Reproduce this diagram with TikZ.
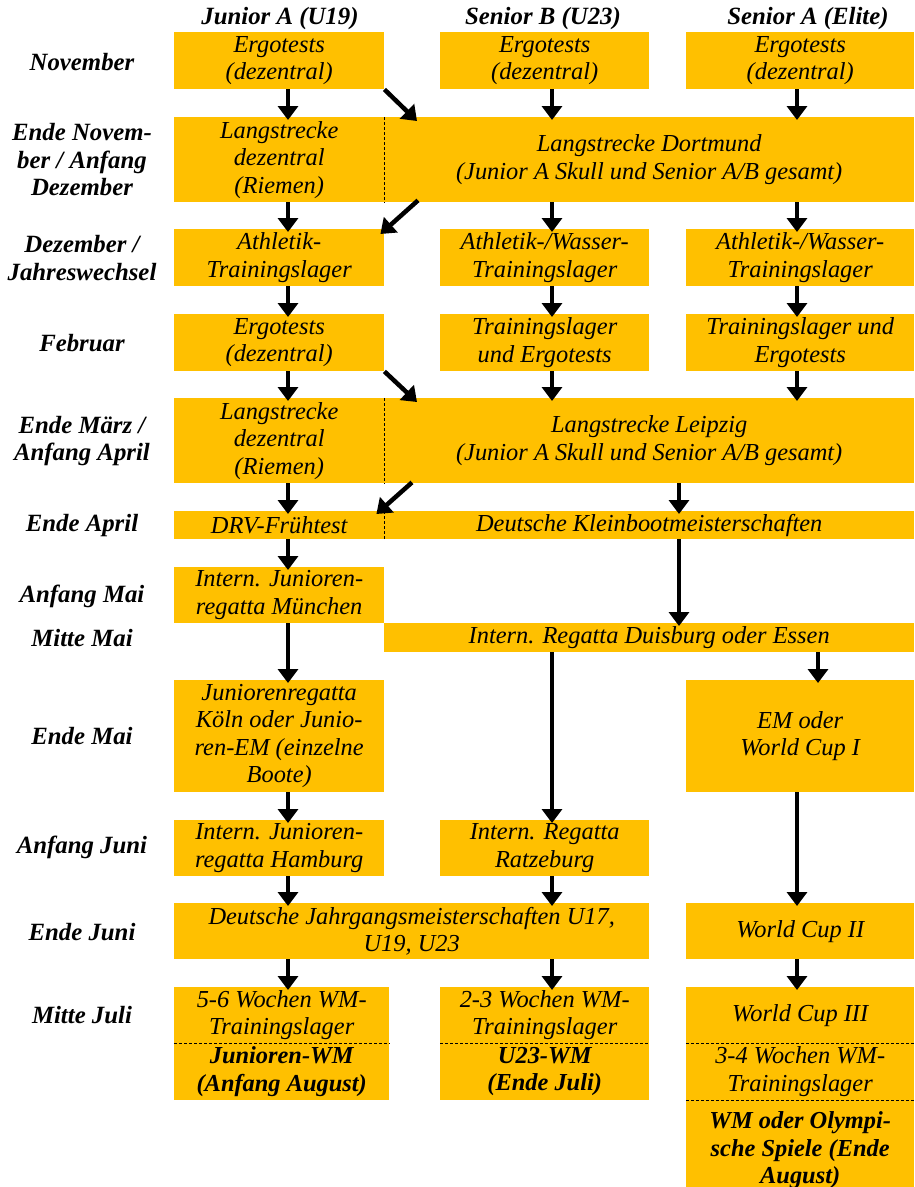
\documentclass[tikz,border=0pt]{standalone}
\usepackage{fontspec}
\setmainfont{Liberation Serif}
\usetikzlibrary{arrows.meta}
\definecolor{boxc}{RGB}{255,192,0}
\begin{document}
\begin{tikzpicture}[x=1pt,y=-1pt,
  box/.style={fill=boxc, inner sep=0pt, anchor=north west, align=center,
    font=\fontsize{24.4}{27.5}\selectfont\itshape},
  bbox/.style={box, font=\fontsize{24.4}{27.5}\selectfont\bfseries\itshape},
  lab/.style={inner sep=0pt, align=center, font=\fontsize{24.8}{27.5}\selectfont\bfseries\itshape},
  arr/.style={line width=4.5pt, -{Triangle[width=20pt,length=14pt]}, shorten >=-3pt},
  divline/.style={line width=1.3pt, dash pattern=on 3pt off 2pt}]
\useasboundingbox (0,0) rectangle (914,1187);
\coordinate (cx1) at (288,0);
\coordinate (cx2) at (552,0);
\coordinate (cx3) at (797,0);
\coordinate (cx4) at (818,0);
\coordinate (cx5) at (679,0);
% headers
\node[lab] (h1) at (280,19) {Junior A (U19)};
\node[lab] (h2) at (543,19) {Senior B (U23)};
\node[lab] (h3) at (808,19) {Senior A (Elite)};
% month labels
\node[lab] (m1) at (82,62) {November};
\node[lab] (m2) at (82,160) {Ende Novem-\\ber / Anfang\\Dezember};
\node[lab] (m3) at (82,258) {Dezember /\\Jahreswechsel};
\node[lab] (m4) at (82,343) {Februar};
\node[lab] (m5) at (82,441) {Ende März /\\Anfang April};
\node[lab] (m6) at (82,526) {Ende April};
\node[lab] (m7) at (82,596) {Anfang Mai};
\node[lab] (m8) at (82,638) {Mitte Mai};
\node[lab] (m9) at (82,736) {Ende Mai};
\node[lab] (m10) at (82,847) {Anfang Juni};
\node[lab] (m11) at (82,932) {Ende Juni};
\node[lab] (m12) at (82,1015) {Mitte Juli};
% row 1
\node[box, minimum width=210, minimum height=57] (e1) at (174,32) {Ergotests\\(dezentral)};
\node[box, minimum width=209, minimum height=57] (e2) at (440,32) {Ergotests\\(dezentral)};
\node[box, minimum width=228, minimum height=57] (e3) at (686,32) {Ergotests\\(dezentral)};
% row 2
\node[box, minimum width=210, minimum height=85] (ld1) at (174,117) {Langstrecke\\dezentral\\(Riemen)};
\node[box, minimum width=530, minimum height=85] (dort) at (384,117) {Langstrecke Dortmund\\(Junior A Skull und Senior A/B gesamt)};
% row 3
\node[box, minimum width=210, minimum height=57] (a1) at (174,229) {Athletik-\\Trainingslager};
\node[box, minimum width=209, minimum height=57] (a2) at (440,229) {Athletik-/Wasser-\\Trainingslager};
\node[box, minimum width=228, minimum height=57] (a3) at (686,229) {Athletik-/Wasser-\\Trainingslager};
% row 4
\node[box, minimum width=210, minimum height=57] (f1) at (174,314) {Ergotests\\(dezentral)};
\node[box, minimum width=209, minimum height=57] (f2) at (440,314) {Trainingslager\\und Ergotests};
\node[box, minimum width=228, minimum height=57] (f3) at (686,314) {Trainingslager und\\Ergotests};
% row 5
\node[box, minimum width=210, minimum height=85] (ld2) at (174,398) {Langstrecke\\dezentral\\(Riemen)};
\node[box, minimum width=530, minimum height=85] (leip) at (384,398) {Langstrecke Leipzig\\(Junior A Skull und Senior A/B gesamt)};
% row 6
\node[box, minimum width=210, minimum height=28] (drv) at (174,511) {DRV-Frühtest};
\node[box, minimum width=530, minimum height=28] (kbm) at (384,511) {Deutsche Kleinbootmeisterschaften};
% row 7
\node[box, minimum width=210, minimum height=56] (mu) at (174,567) {Intern. Junioren-\\regatta München};
% row 8
\node[box, minimum width=530, minimum height=29] (dui) at (384,623) {Intern. Regatta Duisburg oder Essen};
% row 9
\node[box, minimum width=210, minimum height=112] (koeln) at (174,680) {Juniorenregatta\\Köln oder Junio-\\ren-EM (einzelne\\Boote)};
\node[box, minimum width=228, minimum height=112] (em) at (686,680) {EM oder\\World Cup I};
% row 10
\node[box, minimum width=210, minimum height=56] (hh) at (174,820) {Intern. Junioren-\\regatta Hamburg};
\node[box, minimum width=209, minimum height=56] (rz) at (440,820) {Intern. Regatta\\Ratzeburg};
% row 11
\node[box, minimum width=475, minimum height=56] (djm) at (174,903) {Deutsche Jahrgangsmeisterschaften U17,\\U19, U23};
\node[box, minimum width=228, minimum height=56] (wc2) at (686,903) {World Cup II};
% row 12
\node[box, minimum width=215, minimum height=56] (j1) at (174,987) {5-6 Wochen WM-\\Trainingslager};
\node[bbox, minimum width=215, minimum height=57] (j2) at (174,1043) {Junioren-WM\\(Anfang August)};
\node[box, minimum width=209, minimum height=56] (s1) at (440,987) {2-3 Wochen WM-\\Trainingslager};
\node[bbox, minimum width=209, minimum height=57] (s2) at (440,1043) {U23-WM\\(Ende Juli)};
\node[box, minimum width=228, minimum height=56] (w3) at (686,987) {World Cup III};
\node[box, minimum width=228, minimum height=57] (w4) at (686,1043) {3-4 Wochen WM-\\Trainingslager};
\node[bbox, minimum width=228, minimum height=100] (w5) at (686,1100) {WM oder Olympi-\\sche Spiele (Ende\\August)};
% dividers
\draw[divline] (ld1.north east) -- (ld1.south east);
\draw[divline] (ld2.north east) -- (ld2.south east);
\draw[divline] (drv.north east) -- (drv.south east);
\draw[divline] (j1.south west) -- (j1.south east);
\draw[divline] (s1.south west) -- (s1.south east);
\draw[divline] (w3.south west) -- (w3.south east);
\draw[divline] (w4.south west) -- (w4.south east);
% column 1 arrows
\draw[arr] (e1.south -| cx1) -- (ld1.north -| cx1);
\draw[arr] (ld1.south -| cx1) -- (a1.north -| cx1);
\draw[arr] (a1.south -| cx1) -- (f1.north -| cx1);
\draw[arr] (f1.south -| cx1) -- (ld2.north -| cx1);
\draw[arr] (ld2.south -| cx1) -- (drv.north -| cx1);
\draw[arr] (drv.south -| cx1) -- (mu.north -| cx1);
\draw[arr] (mu.south -| cx1) -- (koeln.north -| cx1);
\draw[arr] (koeln.south -| cx1) -- (hh.north -| cx1);
\draw[arr] (hh.south -| cx1) -- (djm.north -| cx1);
\draw[arr] (djm.south -| cx1) -- (j1.north -| cx1);
% column 2 arrows
\draw[arr] (e2.south -| cx2) -- (dort.north -| cx2);
\draw[arr] (dort.south -| cx2) -- (a2.north -| cx2);
\draw[arr] (a2.south -| cx2) -- (f2.north -| cx2);
\draw[arr] (f2.south -| cx2) -- (leip.north -| cx2);
\draw[arr] (dui.south -| cx2) -- (rz.north -| cx2);
\draw[arr] (rz.south -| cx2) -- (djm.north -| cx2);
\draw[arr] (djm.south -| cx2) -- (s1.north -| cx2);
% column 3 arrows
\draw[arr] (e3.south -| cx3) -- (dort.north -| cx3);
\draw[arr] (dort.south -| cx3) -- (a3.north -| cx3);
\draw[arr] (a3.south -| cx3) -- (f3.north -| cx3);
\draw[arr] (f3.south -| cx3) -- (leip.north -| cx3);
\draw[arr] (dui.south -| cx4) -- (em.north -| cx4);
\draw[arr] (em.south -| cx3) -- (wc2.north -| cx3);
\draw[arr] (wc2.south -| cx3) -- (w3.north -| cx3);
% middle arrows
\draw[arr] (leip.south -| cx5) -- (kbm.north -| cx5);
\draw[arr] (kbm.south -| cx5) -- (dui.north -| cx5);
% diagonal arrows
\draw[arr, shorten >=0pt] (e1.south east) -- ([xshift=33pt,yshift=-4pt]dort.north west);
\draw[arr, shorten >=0pt] ([xshift=34pt,yshift=2pt]dort.south west) -- ([xshift=-4pt,yshift=-5pt]a1.north east);
\draw[arr, shorten >=0pt] (f1.south east) -- ([xshift=33pt,yshift=-4pt]leip.north west);
\draw[arr, shorten >=0pt] ([xshift=28pt,yshift=1pt]leip.south west) -- ([xshift=-8pt,yshift=-3pt]drv.north east);
\end{tikzpicture}
\end{document}
